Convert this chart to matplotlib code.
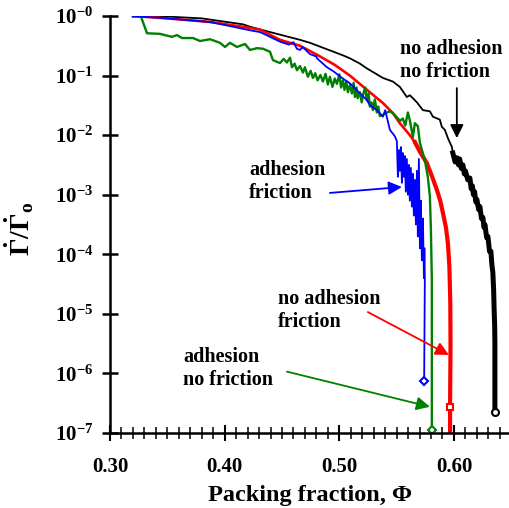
import numpy as np
import matplotlib
matplotlib.use("Agg")
import matplotlib.pyplot as plt
from matplotlib.ticker import FixedLocator, MultipleLocator, NullLocator

plt.rcParams['font.family'] = ['Liberation Serif', 'DejaVu Serif']
plt.rcParams['font.weight'] = 'bold'
plt.rcParams['mathtext.fontset'] = 'custom'
plt.rcParams['mathtext.rm'] = 'Liberation Serif:bold'
plt.rcParams['mathtext.it'] = 'Liberation Serif:bold'
plt.rcParams['mathtext.bf'] = 'Liberation Serif:bold'

# ---------------- data (packing fraction, log10 of rate ratio) ----------------
black_phi = [0.3201, 0.350, 0.380, 0.4160, 0.4221, 0.4456, 0.4657, 0.4744, 0.5031, 0.5092,
             0.5180, 0.5241, 0.5380, 0.5467, 0.5528, 0.5589, 0.5615, 0.5642, 0.5677, 0.5729,
             0.5790, 0.5816, 0.5877, 0.5894, 0.5920, 0.5947, 0.5982, 0.5990]
black_log = [0.0, -0.01, -0.04, -0.14, -0.18, -0.30, -0.40, -0.45, -0.66, -0.71,
             -0.80, -0.88, -1.04, -1.10, -1.19, -1.36, -1.33, -1.38, -1.45, -1.58,
             -1.60, -1.69, -1.74, -1.86, -1.91, -2.05, -2.20, -2.30]
black_tail_phi = [0.5990, 0.6010, 0.6025, 0.6040, 0.6050, 0.6065, 0.6078, 0.6090, 0.6100, 0.6120,
                  0.6139, 0.6150, 0.6160, 0.6170, 0.6180, 0.6190, 0.6200, 0.6215, 0.6226, 0.6240,
                  0.6252, 0.6262, 0.6270, 0.6285, 0.6296, 0.6310, 0.6322, 0.6332, 0.6339, 0.6346,
                  0.6350, 0.6355, 0.6357, 0.6357]
black_tail_log = [-2.30, -2.45, -2.38, -2.50, -2.40, -2.56, -2.50, -2.65, -2.60, -2.75,
                  -2.72, -2.90, -2.85, -3.00, -2.95, -3.12, -3.08, -3.25, -3.20, -3.40,
                  -3.38, -3.55, -3.50, -3.72, -3.70, -3.95, -3.95, -4.20, -4.30, -4.60,
                  -4.90, -5.20, -5.50, -6.64]

red_phi = [0.3201, 0.350, 0.3872, 0.4221, 0.4308, 0.4482, 0.4657, 0.4805, 0.4960, 0.5092,
           0.5241, 0.5380, 0.5467, 0.5528, 0.5615, 0.5660]
red_log = [0.0, -0.04, -0.10, -0.20, -0.23, -0.40, -0.50, -0.65, -0.82, -1.00,
           -1.24, -1.46, -1.63, -1.80, -2.00, -2.12]
red_tail_phi = [0.5660, 0.5703, 0.5764, 0.5810, 0.5851, 0.5880, 0.5903, 0.5930, 0.5947, 0.5960,
                0.5968, 0.5970, 0.5966, 0.5966]
red_tail_log = [-2.12, -2.28, -2.47, -2.70, -2.92, -3.10, -3.30, -3.55, -3.81, -4.20,
                -4.80, -5.50, -6.56, -7.60]

blue_phi = [0.3201, 0.350, 0.3872, 0.4221, 0.4308, 0.4482, 0.4560, 0.4600, 0.4630, 0.4657,
            0.4680, 0.4744, 0.4800, 0.4805, 0.4892, 0.4950, 0.5031, 0.5092, 0.5150, 0.5180,
            0.5241, 0.5267, 0.5328, 0.5380, 0.5400, 0.5441, 0.5485, 0.5502,
            0.5511, 0.5519, 0.5528, 0.5537, 0.5546, 0.5554, 0.5563, 0.5572, 0.5580, 0.5589,
            0.5598, 0.5607, 0.5615, 0.5624, 0.5633, 0.5642, 0.5650, 0.5659, 0.5668, 0.5677,
            0.5685, 0.5694, 0.5703, 0.5711, 0.5720, 0.5729, 0.5738, 0.5742, 0.5746, 0.5740]
blue_log = [0.0, -0.04, -0.10, -0.24, -0.27, -0.43, -0.48, -0.44, -0.55, -0.57,
            -0.52, -0.64, -0.68, -0.71, -0.86, -0.93, -1.05, -1.13, -1.24, -1.30,
            -1.41, -1.50, -1.58, -1.69, -1.58, -1.91, -2.02, -2.10,
            -2.70, -2.25, -2.60, -2.20, -2.80, -2.30, -2.70, -2.35, -2.95, -2.40,
            -3.00, -2.50, -3.10, -2.55, -3.20, -2.65, -3.35, -2.75, -3.50, -2.60,
            -3.70, -2.40, -3.90, -3.10, -4.10, -3.40, -4.40, -3.90, -4.40, -6.12]

green_phi = [0.3201, 0.3270, 0.3323, 0.3436, 0.3541, 0.3584, 0.3628, 0.3724, 0.3785, 0.3872,
             0.3959, 0.4003, 0.4046, 0.4107, 0.4177, 0.4221, 0.4282, 0.4334, 0.4395, 0.4421,
             0.4482, 0.4515, 0.4543, 0.4570, 0.4587, 0.4610, 0.4630, 0.4657, 0.4683, 0.4700,
             0.4726, 0.4750, 0.4770, 0.4790, 0.4810, 0.4835, 0.4857, 0.4880, 0.4900, 0.4918,
             0.4940, 0.4960, 0.4979, 0.5000, 0.5015, 0.5031, 0.5045, 0.5060, 0.5075, 0.5092,
             0.5110, 0.5125, 0.5136, 0.5150, 0.5160, 0.5180, 0.5195, 0.5206, 0.5225, 0.5241,
             0.5255, 0.5267, 0.5280, 0.5293, 0.5310, 0.5328, 0.5340, 0.5354, 0.5380, 0.5415,
             0.5441, 0.5467, 0.5502, 0.5530, 0.5554, 0.5575, 0.5598, 0.5615, 0.5642, 0.5659,
             0.5685, 0.5703, 0.5746, 0.5772, 0.5790, 0.5799, 0.5807, 0.5807, 0.5807]
green_log = [-0.01, -0.01, -0.29, -0.30, -0.35, -0.32, -0.37, -0.37, -0.42, -0.39,
             -0.45, -0.52, -0.45, -0.52, -0.47, -0.57, -0.54, -0.55, -0.60, -0.74,
             -0.79, -0.72, -0.78, -0.70, -0.86, -0.80, -0.91, -0.84, -0.95, -0.86,
             -1.02, -0.92, -1.04, -0.96, -1.08, -0.99, -1.10, -0.97, -1.15, -1.02,
             -1.19, -1.05, -1.14, -0.98, -1.20, -1.08, -1.24, -1.10, -1.28, -1.16,
             -1.30, -1.12, -1.36, -1.20, -1.38, -1.28, -1.45, -1.33, -1.20, -1.42,
             -1.30, -1.52, -1.45, -1.58, -1.40, -1.62, -1.52, -1.68, -1.66, -1.62,
             -1.60, -1.63, -1.70, -1.76, -1.72, -1.84, -1.62, -1.75, -2.03, -1.80,
             -1.85, -2.13, -2.42, -2.70, -3.03, -3.59, -4.43, -6.95, -7.60]

black_end = (0.6357, -6.64)
red_end = (0.5966, -6.56)
blue_end = (0.5740, -6.12)
green_end = (0.5807, -6.95)

x_ticks = [0.30, 0.40, 0.50, 0.60]
x_ticklabels = ["0.30", "0.40", "0.50", "0.60"]
y_exponents = [0, -1, -2, -3, -4, -5, -6, -7]

labels = ["no adhesion\nno friction", "adhesion\nfriction",
          "no adhesion\nfriction", "adhesion\nno friction"]


def pw(a):
    return np.power(10.0, np.asarray(a, dtype=float))


fig = plt.figure(figsize=(5.09, 5.08), dpi=100)
ax = fig.add_axes([110 / 509, 1 - 433 / 508, 399 / 509, 417 / 508])

GREEN = '#008000'
ax.plot(black_phi, pw(black_log), color='black', lw=1.3, solid_joinstyle='round')
ax.plot(black_tail_phi, pw(black_tail_log), color='black', lw=3.6, solid_joinstyle='round')
ax.plot(red_phi, pw(red_log), color='red', lw=1.9)
ax.plot(red_tail_phi, pw(red_tail_log), color='red', lw=3.0)
ax.plot(green_phi, pw(green_log), color=GREEN, lw=1.7)
ax.plot(blue_phi, pw(blue_log), color='blue', lw=1.3)

ms = 5
ax.plot([black_end[0]], pw([black_end[1]]), 'o', mfc='white', mec='black', mew=1.5, ms=ms)
ax.plot([red_end[0]], pw([red_end[1]]), 's', mfc='white', mec='red', mew=1.5, ms=ms)
ax.plot([blue_end[0]], pw([blue_end[1]]), 'D', mfc='white', mec='blue', mew=1.5, ms=4.5)
ax.plot([green_end[0]], pw([green_end[1]]), 'D', mfc='white', mec=GREEN, mew=1.5, ms=4)

ax.set_yscale('log')
ax.set_xlim(0.30, 0.648)
ax.set_ylim(1e-7, 1.0)

ax.spines['top'].set_visible(False)
ax.spines['right'].set_visible(False)
ax.spines['left'].set_linewidth(1.8)
ax.spines['bottom'].set_linewidth(1.8)

ax.xaxis.set_major_locator(FixedLocator(x_ticks))
ax.set_xticklabels(x_ticklabels)
ax.xaxis.set_minor_locator(MultipleLocator(0.01))
ax.yaxis.set_major_locator(FixedLocator([10.0 ** e for e in y_exponents]))
ax.yaxis.set_minor_locator(NullLocator())
ax.set_yticklabels([r'$10^{-%d}$' % abs(e) for e in y_exponents])

ax.tick_params(axis='x', which='major', direction='inout', length=12, width=1.5, pad=11,
               labelsize=15)
ax.tick_params(axis='x', which='minor', direction='inout', length=8, width=1.1)
ax.tick_params(axis='y', which='major', direction='inout', length=12, width=1.8, pad=6,
               labelsize=15)
for lab in ax.get_xticklabels() + ax.get_yticklabels():
    lab.set_fontweight('bold')

ax.set_xlabel('Packing fraction, Φ', fontsize=17.5, fontweight='bold')
ax.xaxis.set_label_coords(0.501, -0.124)
ax.set_ylabel(r'$\dot{\Gamma}/\dot{\Gamma}_o$', fontsize=20)
ax.yaxis.set_label_coords(-0.185, 0.49)

tkw = dict(fontsize=14.5, fontweight='bold', ha='left', va='center', linespacing=1.2)
ax.text(0.5528, 10 ** -0.75, labels[0], **tkw)
ax.text(0.4212, 10 ** -2.77, labels[1], **tkw)
ax.text(0.4465, 10 ** -4.95, labels[2], **tkw)
ax.text(0.3636, 10 ** -5.92, labels[3], **tkw)


def arrow(x0, l0, x1, l1, c):
    ax.annotate('', xy=(x1, 10 ** l1), xytext=(x0, 10 ** l0),
                arrowprops=dict(arrowstyle='-|>', color=c, lw=1.3, mutation_scale=20,
                                shrinkA=0, shrinkB=0))


arrow(0.6025, -1.21, 0.6025, -2.05, 'black')
arrow(0.4918, -2.97, 0.5546, -2.87, 'blue')
arrow(0.5249, -4.97, 0.5956, -5.69, 'red')
arrow(0.4543, -5.97, 0.5790, -6.56, GREEN)

fig.savefig('out.png', dpi=100)
